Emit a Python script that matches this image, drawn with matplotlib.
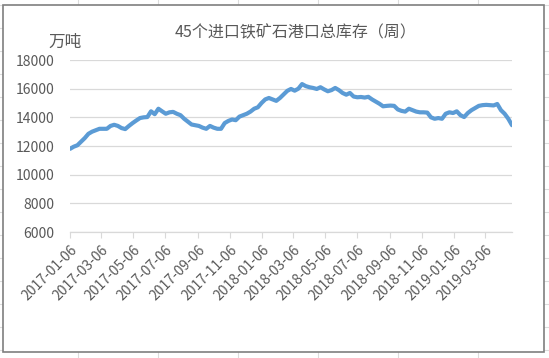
import pandas as pd
import matplotlib
matplotlib.use('Agg')
import matplotlib.pyplot as plt
import matplotlib.dates as mdates
from matplotlib.lines import Line2D
from matplotlib.patches import Rectangle

plt.rcParams['font.family'] = ['Noto Sans CJK SC', 'DejaVu Sans']

# 数据：每周库存（万吨），从2017-01-06开始
start_date = '2017-01-06'
stock = [11800, 11950, 12050, 12300, 12550, 12850, 13000, 13100, 13200, 13200,
         13200, 13400, 13480, 13400, 13250, 13180, 13400, 13600, 13780, 13950,
         14000, 14020, 14420, 14220, 14600, 14420, 14250, 14350, 14380, 14250,
         14150, 13900, 13700, 13500, 13450, 13400, 13280, 13200, 13400, 13280,
         13200, 13200, 13600, 13750, 13850, 13800, 14050, 14150, 14250, 14400,
         14600, 14700, 15000, 15250, 15350, 15250, 15150, 15350, 15600, 15850,
         15980, 15860, 16000, 16320, 16180, 16100, 16050, 15980, 16100, 15950,
         15820, 15900, 16050, 15900, 15700, 15580, 15700, 15450, 15400, 15420,
         15380, 15430, 15250, 15100, 14950, 14770, 14800, 14820, 14800, 14550,
         14450, 14400, 14600, 14500, 14400, 14350, 14350, 14330, 14000, 13900,
         13950, 13900, 14250, 14350, 14300, 14420, 14150, 14020, 14300, 14500,
         14650, 14800, 14850, 14870, 14850, 14830, 14930, 14500, 14250, 13900,
         13450]
dates = pd.date_range(start_date, periods=len(stock), freq='7D')
y_ticks = [6000, 8000, 10000, 12000, 14000, 16000, 18000]

title = '45个进口铁矿石港口总库存（周）'
unit = '万吨'

W, H = 549, 358
fig = plt.figure(figsize=(W / 100, H / 100), dpi=100)

def fx(x):
    return x / W

def fy(y):
    return 1 - y / H

# Excel 背景网格
for x in [78, 158, 238, 318, 398, 478]:
    fig.add_artist(Line2D([fx(x), fx(x)], [0, 1], color='#dcdcdc', lw=0.8, zorder=0))
for k in range(16):
    y = 5 + 23 * k
    fig.add_artist(Line2D([0, 1], [fy(y), fy(y)], color='#dcdcdc', lw=0.8, zorder=0))

# 图表边框
fig.add_artist(Rectangle((fx(3), fy(352)), fx(541), 347 / H, facecolor='white',
                         edgecolor='#7f7f7f', lw=1.2, zorder=1))

ax = fig.add_axes([fx(70), fy(232), fx(442), 172 / H], zorder=2)
ax.set_facecolor('none')
ax.plot(dates, stock, color='#5b9bd5', lw=3.0, solid_joinstyle='round', solid_capstyle='round')

ax.set_ylim(6000, 18000)
ax.set_yticks(y_ticks)
ax.set_xlim(dates[0], dates[-1])
ax.xaxis.set_major_locator(mdates.MonthLocator(bymonth=range(1, 13, 2), bymonthday=6))
ax.xaxis.set_major_formatter(mdates.DateFormatter('%Y-%m-%d'))

ax.grid(axis='y', color='#d9d9d9', lw=0.9)
ax.set_axisbelow(True)
for s in ['top', 'right', 'left']:
    ax.spines[s].set_visible(False)
ax.spines['bottom'].set_color('#d9d9d9')
ax.spines['bottom'].set_linewidth(0.9)

ax.tick_params(axis='y', length=0, pad=11, labelsize=10, labelcolor='#595959')
ax.tick_params(axis='x', length=4, color='#d9d9d9', pad=3.5, labelsize=10, labelcolor='#595959')
for lab in ax.get_xticklabels():
    lab.set_rotation(45)
    lab.set_ha('right')
    lab.set_va('top')
    lab.set_rotation_mode('anchor')

fig.text(fx(296), fy(33), title, ha='center', va='center', fontsize=11.5, color='#595959')
fig.text(fx(65), fy(42), unit, ha='center', va='center', fontsize=12, color='#595959')

fig.savefig('out.png', dpi=100)
